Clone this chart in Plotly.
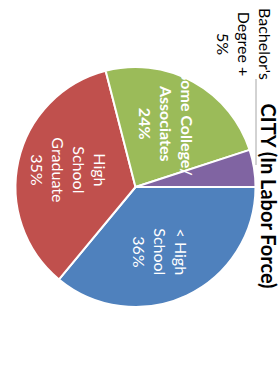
import math
import plotly.graph_objects as go

categories = ["< High School", "High School Graduate", "Some College/Associates", "Bachelor's Degree +"]
label_lines = [["< High", "School"], ["High", "School", "Graduate"], ["Some College/", "Associates"], ["Bachelor's", "Degree +"]]
values = [36, 35, 24, 5]
colors = ["#4F81BD", "#C0504D", "#9BBB59", "#8064A2"]
title_text = "CITY (In Labor Force)"

W, H = 280, 381
ROT = 90  # start angle (clockwise from 12 o'clock)
# pie geometry (pixels)
cxp, cyp, R = 135.5, 187.0, 120.0
dom_x = [(cxp - R) / W, (cxp + R) / W]
dom_y = [1 - (cyp + R) / H, 1 - (cyp - R) / H]
# small pixel nudges of the inside labels (layout only)
nudges = [(-5, 3), (1, -2), (-2, -3)]

fig = go.Figure(go.Pie(
    labels=categories, values=values, sort=False, direction="clockwise",
    rotation=ROT, marker=dict(colors=colors, line=dict(color="white", width=2)),
    textinfo="none", hoverinfo="skip", showlegend=False,
    domain=dict(x=dom_x, y=dom_y),
))

total = sum(values)
annotations = []
cum = 0
for i, v in enumerate(values):
    frac = (cum + v / 2) / total
    cum += v
    pct = f"{round(100 * v / total)}%"
    if i == 3:
        continue
    th = math.radians(ROT + 360 * frac)
    rl = 0.57 * R
    px = cxp + rl * math.sin(th) + nudges[i][0]
    py = cyp - rl * math.cos(th) + nudges[i][1]
    txt = "<br>".join(label_lines[i] + [pct])
    if i == 2:
        txt = "<b>" + txt + "</b>"
    annotations.append(dict(
        x=px / W, y=1 - py / H, xref="paper", yref="paper", text=txt,
        textangle=90, showarrow=False, xanchor="center", yanchor="middle",
        font=dict(family="Lato", size=16, color="white"), align="center",
    ))

# outside label for the small slice
annotations.append(dict(
    x=244 / W, y=1 - 44 / H, xref="paper", yref="paper",
    text="<br>".join(label_lines[3] + [f"{round(100 * values[3] / total)}%"]),
    textangle=90, showarrow=False, xanchor="center", yanchor="middle",
    font=dict(family="Lato", size=16, color="black"), align="center",
))
# title
annotations.append(dict(
    x=268.5 / W, y=1 - 196 / H, xref="paper", yref="paper",
    text="<b>" + title_text + "</b>", textangle=90, showarrow=False,
    xanchor="center", yanchor="middle",
    font=dict(family="Lato", size=20, color="black"),
))

fig.update_layout(
    width=W, height=H, margin=dict(l=0, r=0, t=0, b=0),
    paper_bgcolor="white", plot_bgcolor="white",
    annotations=annotations,
    shapes=[dict(type="line", xref="paper", yref="paper",
                 x0=256 / W, x1=256 / W, y0=1 - 79 / H, y1=1 - 165 / H,
                 line=dict(color="#A6A6A6", width=1))],
)
fig.write_html("out.html", config={"displayModeBar": False},
               post_script="document.body.style.margin='0';document.body.style.overflow='hidden';")
